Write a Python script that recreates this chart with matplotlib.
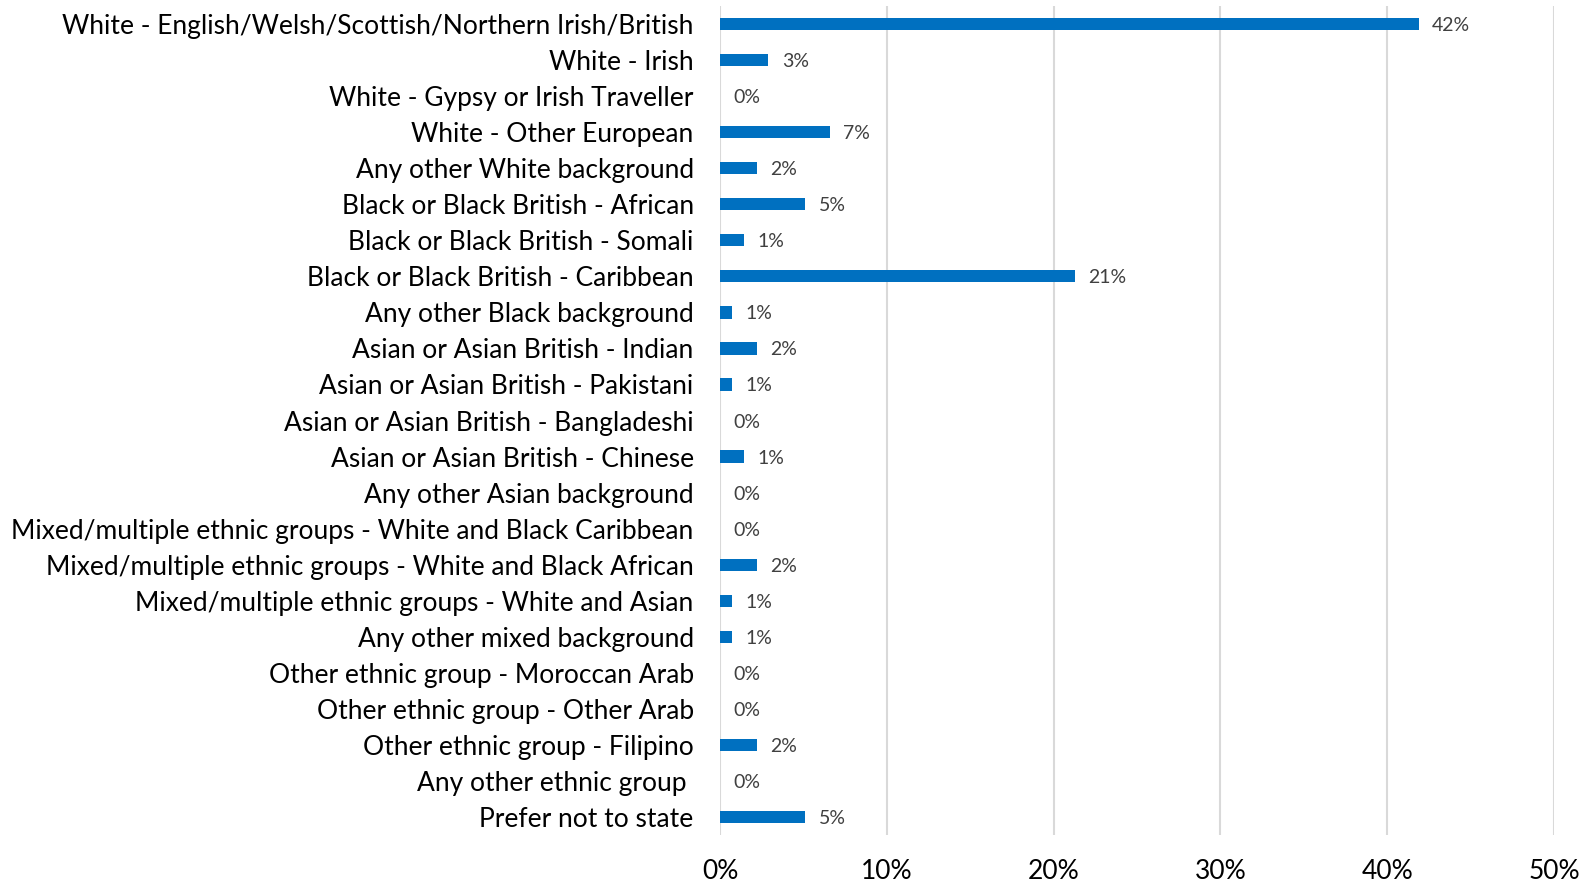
import matplotlib.pyplot as plt
from matplotlib.ticker import PercentFormatter

plt.rcParams['font.family'] = ['Lato', 'DejaVu Sans']

categories = [
    "White - English/Welsh/Scottish/Northern Irish/British",
    "White - Irish",
    "White - Gypsy or Irish Traveller",
    "White - Other European",
    "Any other White background",
    "Black or Black British - African",
    "Black or Black British - Somali",
    "Black or Black British - Caribbean",
    "Any other Black background",
    "Asian or Asian British - Indian",
    "Asian or Asian British - Pakistani",
    "Asian or Asian British - Bangladeshi",
    "Asian or Asian British - Chinese",
    "Any other Asian background",
    "Mixed/multiple ethnic groups - White and Black Caribbean",
    "Mixed/multiple ethnic groups - White and Black African",
    "Mixed/multiple ethnic groups - White and Asian",
    "Any other mixed background",
    "Other ethnic group - Moroccan Arab",
    "Other ethnic group - Other Arab",
    "Other ethnic group - Filipino",
    "Any other ethnic group ",
    "Prefer not to state",
]
# percent of respondents
values = [41.9, 2.9, 0, 6.6, 2.2, 5.1, 1.45, 21.3, 0.7, 2.2, 0.7, 0, 1.45, 0,
          0, 2.2, 0.7, 0.7, 0, 0, 2.2, 0, 5.1]
xticks = [0, 10, 20, 30, 40, 50]

fig = plt.figure(figsize=(15.87, 8.84), dpi=100)
ax = fig.add_axes([0.4537, 0.0554, 0.5255, 0.9378])

ypos = list(range(len(categories)))
ax.barh(ypos, values, height=0.34, color="#0070C0", zorder=3)

for y, v in zip(ypos, values):
    ax.text(v + 0.8, y, "%d%%" % round(v), va="center_baseline", ha="left",
            fontsize=14, color="#404040")

ax.set_yticks(ypos)
ax.set_yticklabels(categories, fontsize=19)
for t in ax.get_yticklabels():
    t.set_verticalalignment("center_baseline")
ax.set_ylim(len(categories) - 0.5, -0.5)
ax.set_xlim(0, 50)
ax.set_xticks(xticks)
ax.xaxis.set_major_formatter(PercentFormatter(decimals=0))
ax.tick_params(axis="x", labelsize=19, length=0, pad=17)
ax.tick_params(axis="y", length=0, pad=19)
ax.grid(axis="x", color="#D9D9D9", linewidth=1.5, zorder=0)
for s in ax.spines.values():
    s.set_visible(False)

fig.savefig("out.png", dpi=100)
